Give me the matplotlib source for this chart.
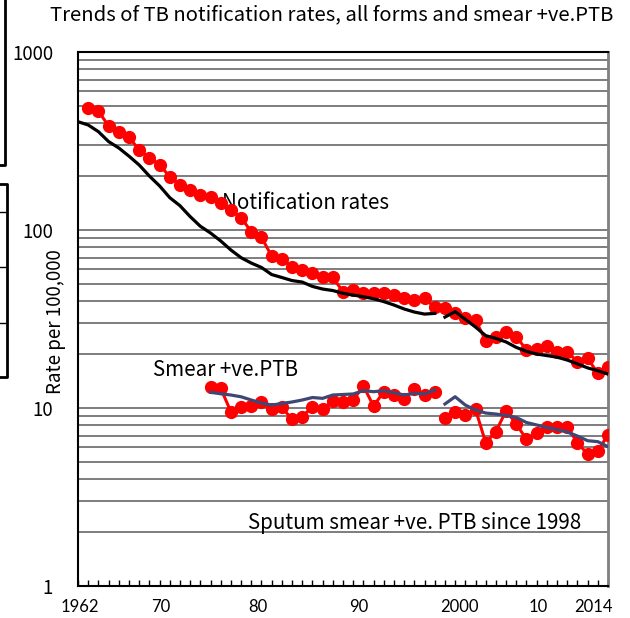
import numpy as np
import matplotlib
matplotlib.use("Agg")
import matplotlib.pyplot as plt
from matplotlib.lines import Line2D
from matplotlib.ticker import LogLocator, NullFormatter, FixedLocator

plt.rcParams["font.family"] = ["Noto Sans CJK JP", "DejaVu Sans"]

# all forms, notification rate (red dots), 1963-2014
notif_years = list(range(1963, 2015))
notif_rate = [486, 466, 384, 355, 333, 281, 255, 233, 199, 180, 167, 158, 153,
              141, 130, 117, 98, 91, 71.4, 68.5, 62.2, 59.6, 57.3, 54.6, 54.2,
              45.0, 46.0, 44.4, 44.1, 44.4, 43.1, 41.3, 40.4, 41.3, 36.8, 36.3,
              34.3, 31.9, 31.2, 23.9, 25.2, 26.8, 25.2, 21.2, 21.4, 22.3, 20.7,
              20.7, 18.2, 19.0, 15.7, 16.9]

# black line (second series), 1962-1997 and 1998-2014
black_years_a = list(range(1962, 1998))
black_a = [406, 389, 357, 314, 289, 260, 232, 201, 177, 152, 137, 119, 105,
           96.2, 86.8, 77.2, 69.9, 65.2, 61.6, 56.2, 54.1, 52.0, 51.0, 48.2,
           46.6, 45.7, 44.1, 43.1, 42.2, 41.1, 39.6, 37.9, 36.0, 34.6, 33.7,
           34.0]
black_years_b = list(range(1998, 2015))
black_b = [32.4, 34.8, 31.5, 28.5, 25.5, 24.6, 23.5, 21.9, 20.8, 20.1, 19.7,
           19.3, 18.6, 17.7, 16.8, 16.2, 15.5]

# smear +ve PTB (red dots)
smear_years_a = list(range(1975, 1998))
smear_a = [13.17, 12.90, 9.53, 10.17, 10.26, 10.85, 9.83, 10.09, 8.64, 8.94,
           10.17, 9.83, 10.99, 10.85, 11.09, 13.29, 10.26, 12.35, 11.83, 11.19,
           12.74, 11.83, 12.35]
smear_years_b = list(range(1998, 2015))
smear_b = [8.75, 9.53, 9.13, 9.83, 6.38, 7.36, 9.66, 8.13, 6.67, 7.26, 7.79,
           7.85, 7.85, 6.38, 5.51, 5.76, 7.05]

# smear +ve PTB (navy line)
navy_a = [12.25, 12.02, 11.83, 11.56, 11.09, 10.67, 10.39, 10.60, 10.81,
          11.09, 11.45, 11.33, 11.83, 11.91, 11.99, 12.51, 12.35, 12.51, 12.19,
          11.83, 12.09, 11.99, 12.62]
navy_b = [10.53, 11.57, 10.39, 9.74, 9.37, 9.25, 9.08, 8.85, 8.29, 8.03, 7.77,
          7.57, 7.33, 6.96, 6.55, 6.47, 6.06]

x_labels = ["1962", "70", "80", "90", "2000", "10", "2014"]
x_label_pos = [1962.2, 1970.1, 1979.6, 1989.5, 1999.4, 2007.2, 2012.6]

RED = "#ff0000"
NAVY = "#3f4874"
GRID = "#5a5a5a"

fig = plt.figure(figsize=(6.3, 6.18), dpi=100)
ax = fig.add_axes([78 / 630, 1 - 586 / 618, 530 / 630, 534 / 618])

# red series with dots
for xs, ys in ((notif_years, notif_rate), (smear_years_a, smear_a),
               (smear_years_b, smear_b)):
    ax.plot(xs, ys, color=RED, lw=2.2, marker="o", ms=8.5,
            mec=RED, mfc=RED, zorder=4)

# lines on top
ax.plot(black_years_a, black_a, color="black", lw=2.3, zorder=5)
ax.plot(black_years_b, black_b, color="black", lw=2.3, zorder=5)
ax.plot(smear_years_a, navy_a, color=NAVY, lw=2.3, zorder=5)
ax.plot(smear_years_b, navy_b, color=NAVY, lw=2.3, zorder=5)

ax.set_yscale("log")
ax.set_ylim(1, 1000)
ax.set_xlim(1962, 2014)

ax.yaxis.set_major_locator(FixedLocator([1, 10, 100, 1000]))
ax.yaxis.set_minor_locator(LogLocator(base=10, subs=tuple(range(2, 10))))
ax.yaxis.set_minor_formatter(NullFormatter())
ax.set_yticklabels(["1", "10", "100", "1000"])
ax.tick_params(axis="y", which="both", length=0, pad=18, labelsize=13.5)
ax.grid(True, axis="y", which="both", color=GRID, lw=1.1, zorder=1)
ax.set_axisbelow(True)

ax.set_xticks(x_label_pos)
ax.set_xticklabels(x_labels, fontfamily="Lato")
ax.xaxis.set_minor_locator(FixedLocator(list(range(1962, 2015))))
ax.tick_params(axis="x", which="major", length=0, pad=9, labelsize=12)
ax.tick_params(axis="x", which="minor", direction="in", length=4, width=1,
               color="black")

for side in ("left", "bottom", "top"):
    ax.spines[side].set_color("black")
    ax.spines[side].set_linewidth(1.5)
ax.spines["right"].set_color("#7f7f7f")
ax.spines["right"].set_linewidth(2)

ax.set_ylabel("Rate per 100,000", fontsize=13.5)
ax.yaxis.set_label_coords(-0.022, 0.496)

ax.text((222 - 78) / 530, (586 - 203) / 534, "Notification rates",
        transform=ax.transAxes, fontsize=14.8, ha="left", va="center")
ax.text((153 - 78) / 530, (586 - 370) / 534, "Smear +ve.PTB",
        transform=ax.transAxes, fontsize=14.8, ha="left", va="center")
ax.text((248 - 78) / 530, (586 - 523) / 534, "Sputum smear +ve. PTB since 1998",
        transform=ax.transAxes, fontsize=14.8, ha="left", va="center")

fig.text(332 / 630, 1 - 15 / 618,
         "Trends of TB notification rates, all forms and smear +ve.PTB",
         fontsize=14.6, ha="center", va="center")

# bits of neighbouring frames cut at the left edge
def px_line(xs, ys, lw=2):
    fig.add_artist(Line2D([x / 630 for x in xs], [1 - y / 618 for y in ys],
                          color="black", lw=lw, transform=fig.transFigure))

px_line([5, 5, 0], [0, 165, 165])
px_line([0, 7, 7, 0], [184, 184, 377, 377])
for yy in (212, 267, 323):
    px_line([0, 7], [yy, yy], lw=1)

fig.savefig("out.png", dpi=100)
